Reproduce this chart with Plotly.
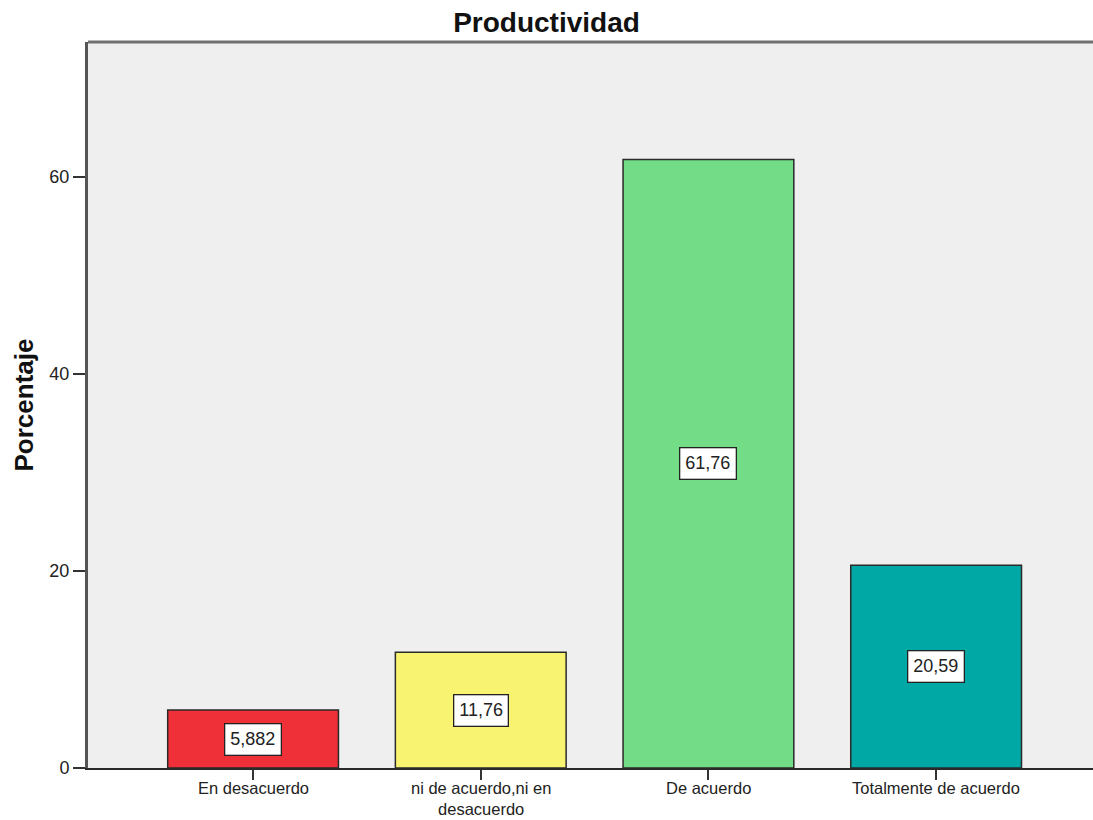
import plotly.graph_objects as go

# Survey response categories and their percentages
categories = ["En desacuerdo", "ni de acuerdo,ni en<br>desacuerdo", "De acuerdo", "Totalmente de acuerdo"]
percentages = [5.882, 11.76, 61.76, 20.59]
bar_colors = ["#EF3038", "#F8F472", "#72DD86", "#00A8A5"]
y_ticks = [0, 20, 40, 60]

FONT = "Liberation Sans, Arial, sans-serif"

fig = go.Figure()
fig.add_trace(go.Bar(
    x=categories,
    y=percentages,
    width=0.75,
    marker=dict(color=bar_colors, line=dict(color="#2a2a2a", width=1.5)),
    hoverinfo="x+y",
))

# Boxed value labels placed at mid-height of each bar
for cat, val in zip(categories, percentages):
    fig.add_annotation(
        x=cat, y=val / 2, xref="x", yref="y",
        text=f"{val}".replace(".", ","),
        showarrow=False,
        font=dict(family=FONT, size=18, color="#222"),
        bgcolor="white", bordercolor="#222", borderwidth=1.3, borderpad=5,
    )

# Category labels under the axis, top-anchored so the two-line label fits the page
for cat in categories:
    fig.add_annotation(
        x=cat, y=0, xref="x", yref="y",
        text=cat, showarrow=False,
        yanchor="top", yshift=-10,
        borderpad=0,
        font=dict(family=FONT, size=16.5, color="#222"),
    )

# Top frame line of the plot area
fig.add_shape(type="line", xref="paper", yref="paper", x0=0, x1=1, y0=1, y1=1,
              line=dict(color="#707070", width=3))

fig.update_layout(
    width=1093, height=820,
    margin=dict(l=88, r=0, t=42, b=52),
    paper_bgcolor="white",
    plot_bgcolor="#EFEFEF",
    showlegend=False,
    title=dict(text="<b>Productividad</b>", x=0.5, xanchor="center", y=0.973, yanchor="middle",
               font=dict(family=FONT, size=28, color="#111")),
    font=dict(family=FONT, size=18, color="#222"),
    bargap=0.25,
)
fig.update_xaxes(
    range=[-0.725, 3.689],
    automargin=False,
    showticklabels=False,
    showline=True, linecolor="#2a2a2a", linewidth=2,
    ticks="outside", ticklen=10, tickwidth=2, tickcolor="#333",
    showgrid=False, zeroline=False,
)
fig.update_yaxes(
    range=[0, 73.7],
    automargin=False,
    tickvals=y_ticks,
    showline=True, linecolor="#555", linewidth=3,
    ticks="outside", ticklen=12, tickwidth=2, tickcolor="#333",
    tickfont=dict(family=FONT, size=18, color="#222"),
    showgrid=False, zeroline=False,
    title=dict(text="<b>Porcentaje</b>", standoff=9,
               font=dict(family=FONT, size=26, color="#111")),
)

fig.write_html("out.html")
